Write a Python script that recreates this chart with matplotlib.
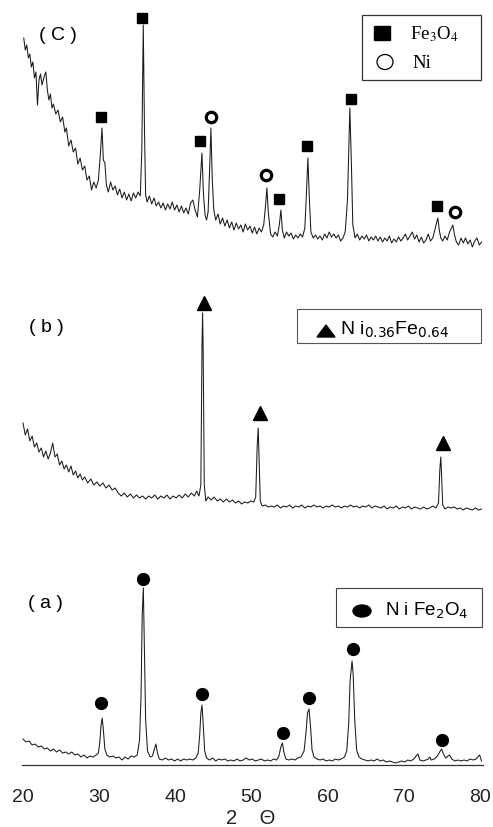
import matplotlib
matplotlib.use("Agg")
import matplotlib.pyplot as plt
from matplotlib.patches import Rectangle, Ellipse, Polygon

# --- XRD data (2 theta, intensity in a.u.) ---
# (a) NiFe2O4
tt_a = [20.0, 20.4, 20.8, 21.2, 21.6, 22.0, 22.4, 22.8, 23.2, 23.6, 24.0, 24.4, 24.8, 25.2, 25.6,
        26.0, 26.4, 26.8, 27.2, 27.6, 28.0, 28.4, 28.8, 29.2, 29.6, 29.9, 30.1, 30.25, 30.4, 30.55,
        30.75, 31.0, 31.4, 31.8, 32.2, 32.6, 33.0, 33.4, 33.8, 34.2, 34.6, 35.0, 35.3, 35.5, 35.65,
        35.8, 35.95, 36.1, 36.35, 36.7, 37.0, 37.25, 37.45, 37.65, 37.9, 38.3, 38.7, 39.1, 39.5, 39.9,
        40.3, 40.7, 41.1, 41.5, 41.9, 42.3, 42.7, 43.0, 43.2, 43.35, 43.5, 43.65, 43.85, 44.1, 44.5,
        44.9, 45.3, 45.7, 46.1, 46.5, 46.9, 47.3, 47.7, 48.1, 48.5, 48.9, 49.3, 49.7, 50.1, 50.5,
        50.9, 51.3, 51.7, 52.1, 52.5, 52.9, 53.3, 53.6, 53.85, 54.05, 54.25, 54.5, 54.9, 55.3, 55.7,
        56.1, 56.5, 56.9, 57.15, 57.35, 57.55, 57.75, 57.95, 58.2, 58.6, 59.0, 59.4, 59.8, 60.2, 60.6,
        61.0, 61.4, 61.8, 62.2, 62.5, 62.75, 62.95, 63.2, 63.35, 63.55, 63.8, 64.1, 64.5, 64.9, 65.3,
        65.7, 66.1, 66.5, 66.9, 67.3, 67.7, 68.1, 68.5, 68.9, 69.3, 69.7, 70.1, 70.5, 70.9, 71.3,
        71.6, 71.85, 72.1, 72.5, 72.9, 73.2, 73.4, 73.6, 74.0, 74.4, 74.7, 74.95, 75.2, 75.5, 75.8,
        76.0, 76.3, 76.7, 77.1, 77.5, 77.9, 78.3, 78.7, 79.1, 79.5, 79.8, 79.95, 80.2]
int_a = [26, 23, 24, 20, 21, 18, 19, 16, 17, 14, 16, 13, 15, 12, 13,
         11, 13, 10, 11, 8, 10, 7, 9, 8, 10, 12, 24, 40, 47, 35,
         16, 10, 8, 9, 7, 8, 5, 8, 6, 9, 8, 10, 25, 70, 150,
         177, 110, 45, 14, 8, 9, 16, 21, 12, 6, 5, 7, 5, 6, 4,
         6, 4, 6, 5, 6, 5, 7, 12, 30, 52, 60, 42, 14, 7, 5,
         7, 4, 6, 5, 6, 4, 5, 4, 6, 4, 5, 7, 5, 6, 4,
         5, 6, 4, 5, 4, 6, 5, 9, 18, 22, 13, 6, 5, 6, 5,
         7, 8, 14, 32, 52, 56, 38, 15, 8, 6, 5, 6, 4, 5, 4,
         6, 5, 6, 8, 14, 40, 85, 104, 90, 45, 15, 8, 6, 5, 4,
         5, 4, 6, 4, 5, 3, 4, 3, 2, 3, 4, 3, 5, 4, 6,
         9, 11, 5, 4, 5, 6, 8, 5, 6, 9, 13, 16, 11, 7, 9,
         10, 6, 4, 5, 4, 5, 4, 6, 5, 6, 9, 10, 4]

# (b) Ni0.36Fe0.64
tt_b = [20.0, 20.3, 20.6, 20.9, 21.2, 21.5, 21.8, 22.1, 22.4, 22.7, 23.0, 23.3, 23.6, 23.9, 24.2,
        24.5, 24.8, 25.1, 25.4, 25.7, 26.0, 26.3, 26.6, 26.9, 27.2, 27.5, 27.8, 28.1, 28.5, 28.9,
        29.3, 29.7, 30.1, 30.5, 30.9, 31.3, 31.7, 32.1, 32.5, 32.9, 33.3, 33.7, 34.1, 34.5, 34.9,
        35.3, 35.7, 36.1, 36.5, 36.9, 37.3, 37.7, 38.1, 38.5, 38.9, 39.3, 39.7, 40.1, 40.5, 40.9,
        41.3, 41.7, 42.1, 42.5, 42.8, 43.1, 43.35, 43.5, 43.58, 43.66, 43.8, 44.0, 44.3, 44.7, 45.1,
        45.5, 45.9, 46.3, 46.7, 47.1, 47.5, 47.9, 48.3, 48.7, 49.1, 49.5, 49.9, 50.3, 50.55, 50.75,
        50.88, 50.98, 51.15, 51.4, 51.8, 52.2, 52.6, 53.0, 53.4, 53.8, 54.2, 54.6, 55.0, 55.4, 55.8,
        56.2, 56.6, 57.0, 57.4, 57.8, 58.2, 58.6, 59.0, 59.4, 59.8, 60.2, 60.6, 61.0, 61.4, 61.8,
        62.2, 62.6, 63.0, 63.4, 63.8, 64.2, 64.6, 65.0, 65.4, 65.8, 66.2, 66.6, 67.0, 67.4, 67.8,
        68.2, 68.6, 69.0, 69.4, 69.8, 70.2, 70.6, 71.0, 71.4, 71.8, 72.2, 72.6, 73.0, 73.4, 73.8,
        74.2, 74.55, 74.72, 74.85, 74.95, 75.1, 75.4, 75.8, 76.2, 76.6, 77.0, 77.4, 77.8, 78.2, 78.6,
        79.0, 79.4, 79.8, 80.2]
int_b = [92, 80, 86, 74, 79, 68, 72, 63, 67, 58, 64, 56, 62, 72, 58,
         61, 50, 54, 46, 50, 43, 49, 40, 44, 37, 41, 35, 38, 32, 36,
         30, 33, 29, 32, 27, 30, 25, 27, 22, 19, 22, 18, 21, 17, 20,
         17, 19, 16, 19, 17, 20, 16, 19, 17, 20, 16, 19, 17, 20, 17,
         21, 18, 22, 19, 24, 19, 30, 170, 202, 160, 30, 14, 18, 15, 18,
         14, 16, 13, 16, 13, 15, 12, 14, 11, 13, 12, 14, 13, 18, 70,
         87, 60, 14, 9, 10, 8, 9, 8, 10, 7, 9, 8, 10, 7, 9,
         8, 10, 7, 9, 8, 10, 8, 9, 7, 9, 8, 10, 8, 9, 7,
         9, 8, 10, 8, 9, 7, 9, 8, 10, 7, 9, 8, 7, 9, 6,
         8, 7, 9, 6, 8, 7, 9, 6, 8, 7, 6, 8, 6, 7, 9,
         7, 12, 45, 58, 40, 10, 6, 8, 7, 8, 6, 7, 5, 7, 6,
         5, 7, 5, 6]

# (c) Fe3O4 + Ni
tt_c = [20.1, 20.3, 20.5, 20.7, 20.9, 21.1, 21.3, 21.5, 21.7, 21.9, 22.1, 22.3, 22.5, 22.8, 23.0,
        23.2, 23.4, 23.6, 23.8, 24.0, 24.3, 24.6, 24.9, 25.2, 25.5, 25.7, 26.0, 26.3, 26.6, 26.9,
        27.2, 27.5, 27.8, 28.1, 28.4, 28.7, 29.0, 29.3, 29.6, 29.9, 30.15, 30.37, 30.55, 30.75, 30.95,
        31.2, 31.5, 31.8, 32.1, 32.4, 32.7, 33.0, 33.3, 33.6, 33.9, 34.2, 34.5, 34.8, 35.1, 35.4,
        35.6, 35.79, 35.95, 36.1, 36.3, 36.6, 36.9, 37.2, 37.5, 37.8, 38.1, 38.4, 38.7, 39.0, 39.3,
        39.6, 39.9, 40.2, 40.5, 40.8, 41.1, 41.4, 41.7, 42.0, 42.3, 42.6, 42.9, 43.2, 43.49, 43.7,
        43.9, 44.1, 44.3, 44.5, 44.67, 44.85, 45.05, 45.3, 45.6, 45.9, 46.2, 46.5, 46.8, 47.1, 47.4,
        47.7, 48.0, 48.3, 48.6, 48.9, 49.2, 49.5, 49.8, 50.1, 50.4, 50.7, 51.0, 51.3, 51.6, 51.85,
        52.02, 52.2, 52.5, 52.8, 53.1, 53.4, 53.65, 53.86, 54.05, 54.3, 54.6, 54.9, 55.2, 55.5, 55.8,
        56.1, 56.4, 56.7, 57.0, 57.2, 57.4, 57.6, 57.8, 58.1, 58.4, 58.7, 59.0, 59.3, 59.6, 59.9,
        60.2, 60.5, 60.8, 61.1, 61.4, 61.7, 62.0, 62.3, 62.6, 62.91, 63.1, 63.3, 63.6, 63.9, 64.2,
        64.5, 64.8, 65.1, 65.4, 65.7, 66.0, 66.3, 66.6, 66.9, 67.2, 67.5, 67.8, 68.1, 68.4, 68.7,
        69.0, 69.3, 69.6, 69.9, 70.2, 70.5, 70.8, 71.1, 71.4, 71.7, 72.0, 72.3, 72.6, 72.9, 73.2,
        73.5, 73.8, 74.0, 74.25, 74.46, 74.65, 74.85, 75.1, 75.4, 75.7, 76.0, 76.25, 76.43, 76.65, 76.9,
        77.2, 77.5, 77.8, 78.1, 78.4, 78.7, 79.0, 79.3, 79.6, 79.9, 80.2]
int_c = [212, 200, 205, 192, 196, 183, 188, 172, 178, 145, 170, 176, 165, 174, 178,
         160, 150, 156, 142, 146, 136, 140, 128, 133, 118, 122, 104, 110, 98, 102,
         86, 92, 80, 84, 70, 74, 60, 68, 62, 70, 95, 122, 90, 87, 65,
         58, 68, 60, 64, 55, 61, 52, 58, 50, 56, 49, 57, 52, 58, 54,
         100, 225, 120, 55, 48, 54, 46, 52, 44, 48, 42, 47, 40, 46, 41,
         48, 40, 45, 38, 44, 37, 42, 36, 47, 50, 40, 33, 60, 97, 55,
         35, 30, 38, 80, 122, 70, 40, 30, 36, 26, 32, 24, 30, 22, 28,
         20, 27, 21, 25, 18, 26, 20, 24, 17, 23, 16, 22, 18, 25, 45,
         62, 38, 16, 13, 18, 14, 25, 40, 20, 12, 18, 14, 17, 11, 15,
         12, 16, 13, 22, 55, 92, 50, 18, 12, 15, 11, 14, 10, 16, 12,
         18, 13, 16, 12, 15, 9, 12, 18, 50, 142, 90, 25, 12, 16, 10,
         14, 11, 15, 9, 13, 10, 14, 9, 13, 8, 12, 9, 14, 7, 11,
         8, 13, 9, 12, 16, 10, 14, 18, 11, 15, 8, 13, 7, 10, 16,
         9, 12, 18, 26, 32, 20, 12, 9, 14, 10, 18, 22, 25, 15, 8,
         5, 12, 7, 12, 6, 10, 3, 9, 12, 5, 8]

# vertical offsets of the stacked patterns
offset_a = 0
offset_b = 250
offset_c = 515

# phase markers (2 theta, height above the pattern offset)
nife2o4_tt = [30.2, 35.79, 43.45, 54.08, 57.53, 63.27, 74.99]
nife2o4_h = [62, 186, 71, 32, 67, 116, 25]
nife_tt = [43.75, 51.05, 75.1]
nife_h = [212, 102, 72]
fe3o4_tt = [30.24, 35.62, 43.23, 53.6, 57.27, 63.04, 74.33]
fe3o4_h = [133, 232, 109, 51, 104, 151, 44]
ni_tt = [44.67, 51.89, 76.69]
ni_h = [133, 75, 38]

W, H = 493, 827


def fx(px):
    return px / W


def fy(py):
    return 1 - py / H


fig = plt.figure(figsize=(W / 100, H / 100), dpi=100)
ax = fig.add_axes([fx(22), fy(765), fx(483) - fx(22), fy(0) - fy(765)])
ax.set_xlim(19.87, 80.39)
ax.set_ylim(0, 765)

line_kw = dict(color="#1a1a1a", lw=0.75)
ax.plot(tt_a, [v + offset_a for v in int_a], **line_kw)
ax.plot(tt_b, [v + offset_b for v in int_b], **line_kw)
ax.plot(tt_c, [v + offset_c for v in int_c], **line_kw)

ax.plot(nife2o4_tt, [v + offset_a for v in nife2o4_h], "o", color="black", ms=8.5, clip_on=False)
ax.plot(nife_tt, [v + offset_b for v in nife_h], "^", color="black", ms=10, clip_on=False)
ax.plot(fe3o4_tt, [v + offset_c for v in fe3o4_h], "s", color="black", ms=7.8, clip_on=False)
ax.plot(ni_tt, [v + offset_c for v in ni_h], "o", mfc="white", mec="black", mew=2.3, ms=7.5,
        clip_on=False)

for side in ["left", "right", "top"]:
    ax.spines[side].set_visible(False)
ax.spines["bottom"].set_linewidth(0.9)
ax.spines["bottom"].set_color("#333333")
ax.set_yticks([])
ax.set_xticks([20, 30, 40, 50, 60, 70, 80])
ax.tick_params(axis="x", length=0, pad=17, labelsize=14)
for lab in ax.get_xticklabels():
    lab.set_family("Liberation Sans")
    lab.set_color("#222222")

sans = ["Liberation Sans", "DejaVu Sans"]
fig.text(fx(251), fy(818), "2    \u0398", ha="center", va="center", fontsize=14.5, family=sans,
         color="#222222")

# pattern labels
fig.text(fx(58), fy(35), "( C )", ha="center", va="center", fontsize=14, family=sans)
fig.text(fx(46), fy(327), "( b )", ha="center", va="center", fontsize=14, family=sans)
fig.text(fx(45), fy(603), "( a )", ha="center", va="center", fontsize=14, family=sans)

# legend (c)
fig.add_artist(Rectangle((fx(362), fy(80)), fx(481) - fx(362), fy(15) - fy(80),
                         transform=fig.transFigure, fill=False, ec="#333333", lw=0.9))
fig.add_artist(Rectangle((fx(374), fy(40)), fx(16), fy(0) - fy(14), transform=fig.transFigure,
                         color="black"))
fig.add_artist(Ellipse((fx(385), fy(62)), fx(16), fy(0) - fy(15), transform=fig.transFigure,
                       fill=False, ec="black", lw=0.9))
fig.text(fx(410), fy(34), "Fe$_3$O$_4$", ha="left", va="center", fontsize=13.5,
         family="Liberation Serif", math_fontfamily="stix")
fig.text(fx(412), fy(63), "Ni", ha="left", va="center", fontsize=13.5, family="Liberation Serif")

# legend (b)
fig.add_artist(Rectangle((fx(297), fy(343)), fx(481) - fx(297), fy(309) - fy(343),
                         transform=fig.transFigure, fill=False, ec="#555555", lw=0.8))
fig.add_artist(Polygon([(fx(317), fy(337)), (fx(335), fy(337)), (fx(326), fy(325))],
                       closed=True, transform=fig.transFigure, color="black"))
fig.text(fx(340), fy(330), "N i$_{0.36}$Fe$_{0.64}$", ha="left", va="center", fontsize=14,
         family=sans, math_fontfamily="dejavusans")

# legend (a)
fig.add_artist(Rectangle((fx(336), fy(627)), fx(482) - fx(336), fy(588) - fy(627),
                         transform=fig.transFigure, fill=False, ec="#444444", lw=0.8))
fig.add_artist(Ellipse((fx(362), fy(611)), fx(18), fy(0) - fy(12), transform=fig.transFigure,
                       color="black"))
fig.text(fx(385), fy(611), "N i Fe$_2$O$_4$", ha="left", va="center", fontsize=13.5, family=sans,
         math_fontfamily="dejavusans")

fig.savefig("out.png", dpi=100)
